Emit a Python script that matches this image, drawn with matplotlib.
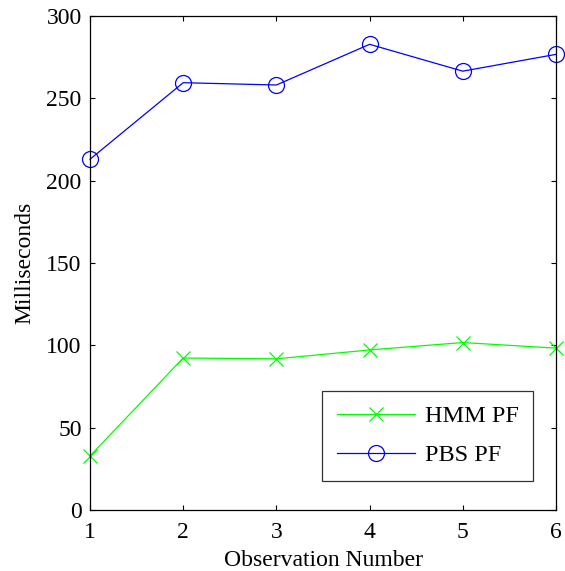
import numpy as np
import matplotlib
matplotlib.use("Agg")
import matplotlib.pyplot as plt

plt.rcParams['font.family'] = ['Liberation Serif', 'DejaVu Serif']

obs = [1, 2, 3, 4, 5, 6]
hmm_pf = [32.8, 92.3, 91.8, 97.2, 101.7, 98.3]
pbs_pf = [213.0, 259.5, 258.1, 282.8, 266.5, 276.7]

fig = plt.figure(figsize=(5.65, 5.71), dpi=100)
ax = fig.add_axes([90 / 565, 1 - 510 / 571, 466 / 565, 494 / 571])

ax.plot(obs, hmm_pf, color="#00ff00", lw=0.9, marker="x", ms=9.5, mew=0.9,
        label="HMM PF", clip_on=False)
ax.plot(obs, pbs_pf, color="#0000ff", lw=0.9, marker="o", ms=11.5, mew=0.9,
        mfc="none", label="PBS PF", clip_on=False)

ax.set_xlim(1, 6)
ax.set_ylim(0, 300)
ax.set_xticks(obs)
ax.set_yticks(np.arange(0, 301, 50))
ax.tick_params(direction="in", length=3.6, width=0.8, top=True, right=True,
               labelsize=17, pad=6)
ax.tick_params(axis="x", pad=9)
for s in ax.spines.values():
    s.set_linewidth(0.9)

ax.set_xlabel("Observation Number", fontsize=17, labelpad=5)
ax.set_ylabel("Milliseconds", fontsize=17, labelpad=8)

# legend box placed like the matlab one, lower right inside the axes
leg = ax.legend(loc="lower right", bbox_to_anchor=(533 / 565, 1 - 481 / 571),
                bbox_transform=fig.transFigure, fontsize=17.5, fancybox=False,
                edgecolor="black", handlelength=3.2, borderpad=0.6,
                labelspacing=0.7, handletextpad=0.4, borderaxespad=0)
leg.get_frame().set_linewidth(0.9)

fig.savefig("out.png", dpi=100)
